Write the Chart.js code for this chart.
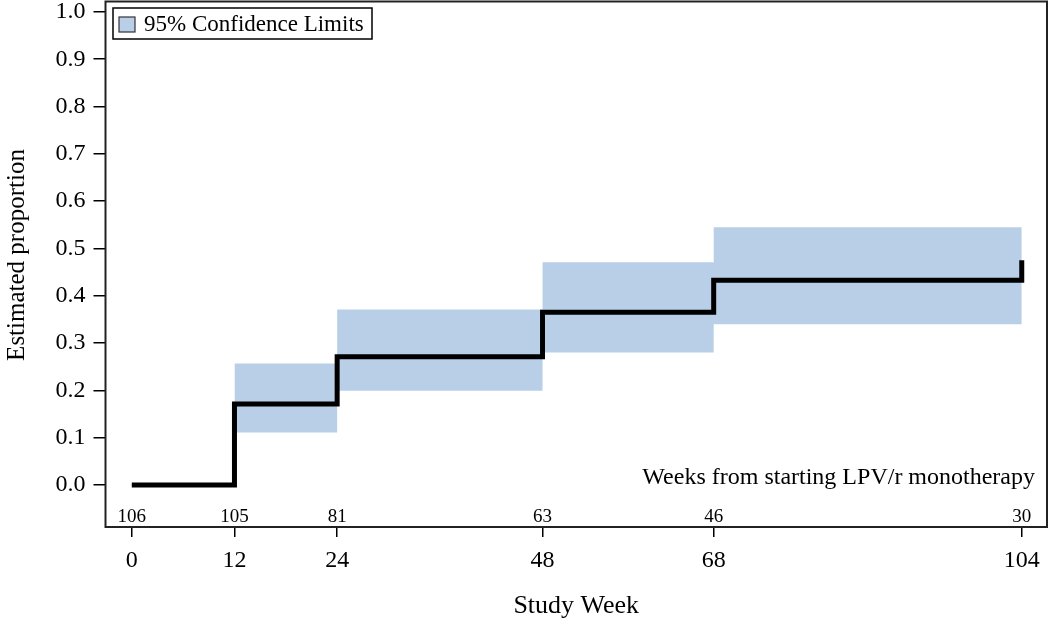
<!DOCTYPE html>
<html>
<head>
<meta charset="utf-8">
<script src="https://cdn.jsdelivr.net/npm/chart.js@4/dist/chart.umd.min.js"></script>
<style>
  body { margin: 0; background: #fff; }
  #wrap { width: 1050px; height: 620px; }
</style>
</head>
<body>
<div id="wrap"><canvas id="myChart" width="1050" height="620"></canvas></div>
<script>
// step estimate (week, proportion)
const stepWeeks = [0, 12, 24, 48, 68, 104, 104];
const stepValues = [0, 0.171, 0.271, 0.365, 0.433, 0.433, 0.475];

// 95% confidence limits
const ciWeeks = [12, 24, 48, 68, 104];
const ciUpper = [0.257, 0.371, 0.471, 0.545, 0.545];
const ciLower = [0.111, 0.199, 0.280, 0.340, 0.340];

// numbers at risk
const riskWeeks = [0, 12, 24, 48, 68, 104];
const riskCounts = [106, 105, 81, 63, 46, 30];

const xTicks = [0, 12, 24, 48, 68, 104];
const yTicks = [0, 0.1, 0.2, 0.3, 0.4, 0.5, 0.6, 0.7, 0.8, 0.9, 1.0];

const bandColor = 'rgb(185, 207, 231)';
const serif = "'Liberation Serif', 'Times New Roman', serif";
Chart.defaults.font.family = serif;
Chart.defaults.color = '#000';

function pts(xs, ys) {
    return xs.map((x, i) => ({ x: x, y: ys[i] }));
}

const extras = {
    id: 'extras',
    afterDraw(chart) {
        const ctx = chart.ctx;
        const a = chart.chartArea;
        const xs = chart.scales.x;
        const ys = chart.scales.y;
        ctx.save();

        // frame
        ctx.strokeStyle = '#222';
        ctx.lineWidth = 2;
        ctx.strokeRect(a.left, a.top, a.right - a.left, a.bottom - a.top);

        // at-risk counts
        ctx.fillStyle = '#000';
        ctx.font = '19px ' + serif;
        ctx.textAlign = 'center';
        ctx.textBaseline = 'middle';
        const ry = ys.getPixelForValue(-0.067);
        riskWeeks.forEach((w, i) => {
            ctx.fillText(String(riskCounts[i]), xs.getPixelForValue(w), ry);
        });

        // note
        ctx.font = '24px ' + serif;
        ctx.textAlign = 'right';
        ctx.textBaseline = 'alphabetic';
        ctx.fillText('Weeks from starting LPV/r monotherapy', a.right - 12, ys.getPixelForValue(0) - 1);

        // legend
        ctx.lineWidth = 1.5;
        ctx.strokeStyle = '#000';
        ctx.strokeRect(113, 8, 259, 31);
        ctx.fillStyle = bandColor;
        ctx.fillRect(119, 17, 16, 15);
        ctx.strokeStyle = '#333';
        ctx.lineWidth = 1.2;
        ctx.strokeRect(119, 17, 16, 15);
        ctx.fillStyle = '#000';
        ctx.font = '23px ' + serif;
        ctx.textAlign = 'left';
        ctx.textBaseline = 'middle';
        ctx.fillText('95% Confidence Limits', 144, 25);

        // axis titles
        ctx.font = '26px ' + serif;
        ctx.textAlign = 'center';
        ctx.textBaseline = 'alphabetic';
        ctx.fillText('Study Week', (a.left + a.right) / 2, 613);
        ctx.font = '25px ' + serif;
        ctx.translate(24, 255);
        ctx.rotate(-Math.PI / 2);
        ctx.fillText('Estimated proportion', 0, 0);
        ctx.restore();
    }
};

const ctx = document.getElementById('myChart').getContext('2d');
const chart = new Chart(ctx, {
    type: 'line',
    data: {
        datasets: [
            {
                label: 'Estimate',
                data: pts(stepWeeks, stepValues),
                stepped: true,
                borderColor: '#000',
                borderWidth: 5,
                pointRadius: 0,
                fill: false,
                order: 0
            },
            {
                label: 'Upper',
                data: pts(ciWeeks, ciUpper),
                stepped: true,
                borderWidth: 0,
                borderColor: 'rgba(0,0,0,0)',
                backgroundColor: bandColor,
                pointRadius: 0,
                fill: '+1',
                order: 1
            },
            {
                label: 'Lower',
                data: pts(ciWeeks, ciLower),
                stepped: true,
                borderWidth: 0,
                borderColor: 'rgba(0,0,0,0)',
                pointRadius: 0,
                fill: false,
                order: 1
            }
        ]
    },
    options: {
        responsive: false,
        animation: false,
        layout: { padding: { top: 1.5, right: 3, left: 0, bottom: 0 } },
        plugins: {
            legend: { display: false },
            tooltip: { enabled: false }
        },
        scales: {
            x: {
                type: 'linear',
                min: -3.07,
                max: 106.95,
                afterBuildTicks: (s) => { s.ticks = xTicks.map(v => ({ value: v })); },
                afterFit: (s) => { s.height = 93; s.paddingLeft = 0; s.paddingRight = 0; },
                ticks: {
                    font: { size: 24 },
                    padding: 9,
                    maxRotation: 0,
                    autoSkip: false,
                    callback: (v) => String(v)
                },
                grid: { drawOnChartArea: false, drawTicks: true, tickLength: 10, color: '#000', lineWidth: 1.5 },
                border: { display: false }
            },
            y: {
                type: 'linear',
                min: -0.0888,
                max: 1.022,
                afterBuildTicks: (s) => { s.ticks = yTicks.map(v => ({ value: v })); },
                afterFit: (s) => { s.width = 105.5; s.paddingTop = 0; s.paddingBottom = 0; },
                ticks: {
                    font: { size: 24 },
                    padding: 8,
                    autoSkip: false,
                    callback: (v) => v.toFixed(1)
                },
                grid: { drawOnChartArea: false, drawTicks: true, tickLength: 12, color: '#000', lineWidth: 1.5 },
                border: { display: false }
            }
        }
    },
    plugins: [extras]
});
</script>
</body>
</html>
